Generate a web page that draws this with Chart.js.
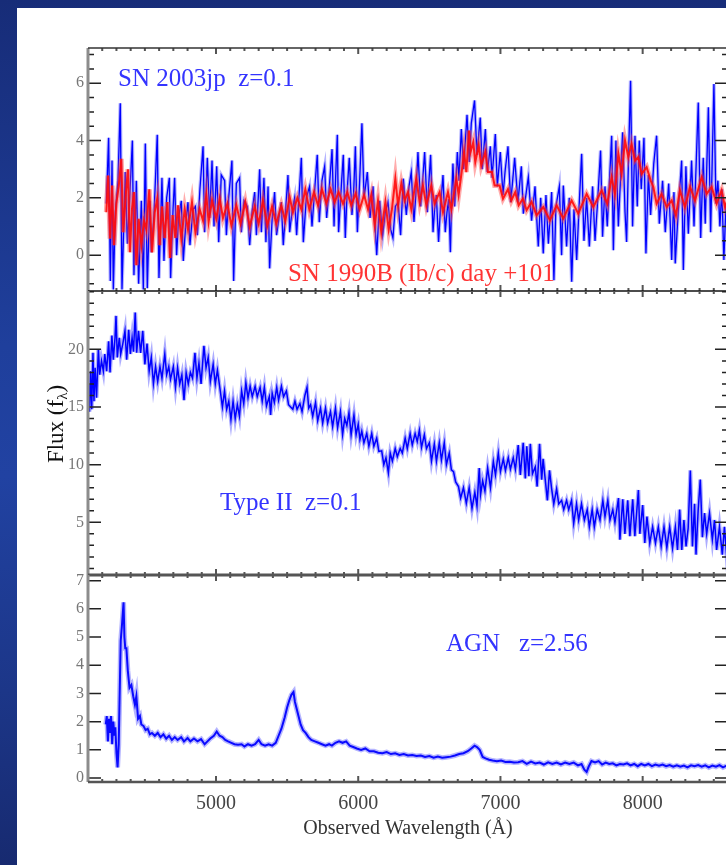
<!DOCTYPE html>
<html>
<head>
<meta charset="utf-8">
<script src="https://cdn.jsdelivr.net/npm/chart.js@4.4.1/dist/chart.umd.min.js"></script>
<style>
html, body { margin: 0; padding: 0; width: 726px; height: 865px; overflow: hidden; }
body { position: relative; background: linear-gradient(to bottom, #172c78 0%, #1f3f9c 40%, #2142a2 55%, #1c3688 80%, #172a70 100%); }
#sheet { position: absolute; left: 17px; top: 8px; width: 709px; height: 857px; background: #fff; }
#plots canvas { position: absolute; left: 0; top: 0; }
</style>
</head>
<body>
<div id="sheet"></div>
<div id="plots">
  <canvas id="p1" width="760" height="865"></canvas>
  <canvas id="p2" width="760" height="865"></canvas>
  <canvas id="p3" width="760" height="865"></canvas>
</div>
<script>
//Tick labels
const xTicks = [5000, 6000, 7000, 8000];
const yTicks1 = [0, 2, 4, 6];
const yTicks2 = [5, 10, 15, 20];
const yTicks3 = [0, 1, 2, 3, 4, 5, 6, 7];

//SN 2003jp (blue, top panel)
const sn03Wave = [4229,4245,4257,4269,4278,4292,4311,4327,4339,4362,4377,4393,4412,4423,4440,4456,4475,4489,4503,4517,
  4534,4545,4564,4587,4599,4620,4634,4653,4672,4681,4698,4709,4723,4737,4756,4770,4789,4803,4817,4838,
  4855,4869,4887,4909,4920,4939,4955,4972,4986,5005,5019,5037,5061,5073,5089,5112,5124,5143,5166,5178,
  5197,5220,5237,5253,5272,5284,5307,5319,5337,5351,5366,5377,5394,5412,5426,5445,5459,5473,5490,5506,
  5518,5534,5553,5567,5600,5614,5635,5658,5675,5694,5712,5726,5745,5764,5778,5797,5816,5830,5841,5853,
  5862,5881,5895,5909,5923,5937,5956,5968,5980,5994,6010,6026,6041,6064,6083,6104,6130,6151,6172,6191,
  6209,6228,6244,6261,6280,6298,6317,6338,6357,6373,6392,6406,6420,6439,6453,6467,6486,6495,6509,6526,
  6537,6549,6565,6580,6596,6612,6624,6636,6648,6657,6666,6678,6697,6708,6725,6741,6765,6781,6795,6818,
  6835,6847,6858,6872,6894,6908,6929,6941,6964,6978,6999,7018,7034,7053,7072,7086,7100,7123,7147,7161,
  7196,7219,7243,7266,7283,7301,7320,7337,7360,7376,7390,7414,7430,7442,7465,7484,7501,7517,7536,7554,
  7571,7587,7606,7625,7648,7665,7681,7704,7718,7735,7751,7782,7794,7812,7829,7859,7876,7887,7901,7915,
  7929,7946,7962,7976,7990,8009,8023,8040,8056,8078,8098,8117,8140,8159,8183,8204,8220,8229,8251,8274,
  8286,8304,8321,8344,8361,8391,8408,8426,8440,8462,8478,8501,8515,8529,8543,8557,8571,8586,8600];
const sn03Flux = [1.8,4.1,-0.9,3.3,-1.2,1.5,2.6,5.3,-1.2,2.9,0.4,2.0,4.0,-0.7,2.6,-1.0,1.9,-1.2,3.9,-1.15,
  1.9,0.1,1.4,4.2,-0.8,2.7,-0.2,2.0,2.7,-0.8,1.6,2.7,0.0,1.3,1.9,-0.2,1.2,1.85,0.35,1.6,
  1.7,0.7,2.3,3.8,0.8,3.4,1.3,3.3,1.0,3.1,0.45,2.8,2.6,0.7,2.0,3.3,-0.9,2.5,2.7,0.8,
  1.9,1.7,0.35,1.5,2.2,0.7,3.0,0.8,2.7,0.45,2.4,-0.46,1.2,2.2,0.7,1.4,1.85,0.35,1.6,2.8,
  0.8,1.5,2.0,0.7,3.4,0.45,2.0,2.4,1.0,2.3,3.5,1.15,2.6,3.1,1.3,2.4,3.7,1.0,2.7,4.2,
  0.8,2.4,3.5,0.6,2.3,3.4,1.4,2.2,3.8,0.8,2.6,4.6,2.0,2.9,1.3,2.4,0.0,1.9,0.7,1.5,
  1.85,0.9,0.6,1.7,1.85,0.7,2.67,1.4,2.4,2.9,1.16,2.2,3.6,1.7,2.6,3.6,1.5,2.4,3.5,0.8,
  1.6,2.1,0.46,1.8,2.8,0.8,1.5,1.95,0.1,2.0,3.2,1.7,3.6,2.6,4.4,3.0,4.9,3.25,4.6,5.4,
  3.5,4.2,4.8,3.0,4.4,2.9,3.8,2.7,4.23,2.4,3.6,2.1,3.0,3.8,1.85,2.6,3.4,1.85,3.1,1.45,
  2.72,1.2,2.4,0.3,2.0,0.06,2.1,0.4,2.2,-0.87,1.7,2.4,0.0,2.43,0.3,2.0,-0.93,1.6,-0.17,1.8,
  3.54,0.5,2.0,0.3,2.4,0.5,1.7,3.65,0.64,2.4,1.0,4.17,0.17,4.0,1.0,4.29,1.5,0.46,3.5,6.09,
  1.0,4.17,1.7,4.0,2.3,4.1,0.06,2.8,1.4,3.2,4.17,1.1,2.6,0.8,2.5,-0.17,2.2,-0.29,1.6,3.3,
  -0.52,3.1,0.75,3.3,1.0,5.33,0.6,3.4,1.1,5.16,0.8,5.97,1.8,2.6,1.0,2.3,-0.17,1.8,1.2];

//SN 1990B (red, top panel)
const sn90Wave = [4229,4241,4255,4269,4283,4299,4316,4334,4348,4367,4381,4395,4409,4423,4440,4456,4475,4494,4510,4531,
  4550,4569,4587,4604,4620,4639,4658,4677,4695,4714,4733,4756,4780,4803,4831,4855,4885,4909,4932,4948,
  4972,5002,5026,5049,5080,5108,5143,5173,5206,5237,5272,5300,5330,5361,5394,5424,5459,5487,5518,5541,
  5572,5600,5628,5656,5689,5717,5745,5776,5806,5834,5862,5893,5923,5951,5982,6010,6041,6069,6092,6116,
  6139,6162,6191,6214,6237,6261,6280,6303,6326,6350,6373,6408,6432,6455,6479,6514,6537,6572,6596,6631,
  6655,6690,6706,6730,6744,6760,6779,6790,6809,6823,6847,6865,6894,6912,6940,6959,6994,7018,7053,7076,
  7104,7128,7158,7184,7219,7254,7301,7348,7395,7442,7501,7547,7606,7653,7712,7751,7782,7805,7829,7852,
  7876,7899,7922,7946,7969,7993,8028,8056,8075,8098,8133,8169,8204,8234,8262,8297,8333,8368,8415,8450,
  8485,8520,8555,8579,8600];
const sn90Flux = [1.5,2.78,0.58,2.43,0.35,1.8,2.4,3.36,0.8,2.2,3.0,0.1,1.6,2.2,-0.35,1.27,0.35,1.2,0.9,2.3,
  0.1,1.5,1.97,0.35,1.7,0.6,1.85,-0.1,1.4,0.6,1.74,0.58,1.6,0.9,1.85,0.8,1.6,1.2,2.1,1.16,
  1.9,1.27,1.97,1.3,1.8,1.04,1.74,1.1,1.85,1.0,1.7,1.1,1.9,1.04,1.7,1.1,1.74,1.2,2.03,1.5,
  2.0,1.6,2.3,1.6,2.2,1.74,2.3,1.8,2.3,1.85,2.2,1.8,2.2,1.74,2.15,1.6,2.1,1.6,2.1,1.04,
  1.9,0.8,1.85,0.9,1.6,2.67,1.74,2.5,1.9,2.2,1.6,2.67,1.85,2.43,1.74,2.43,1.8,2.2,1.5,2.2,
  1.6,2.67,2.1,3.0,3.6,2.9,4.35,3.6,3.94,3.25,3.83,3.13,3.6,2.9,2.9,2.43,2.43,1.97,2.3,1.9,
  2.2,1.74,1.97,1.57,1.86,1.39,1.68,1.22,1.74,1.28,1.91,1.45,2.14,1.68,2.26,1.8,2.72,2.14,3.54,2.84,
  4.0,3.42,3.88,3.3,3.42,2.84,3.07,2.61,2.38,1.8,2.14,1.68,1.91,1.39,2.26,1.68,2.38,1.91,2.72,2.14,
  2.38,1.8,2.26,1.68,2.0];

//Type II (middle panel)
const typeIIWave = [4105,4110,4118,4126,4135,4142,4150,4160,4173,4182,4195,4208,4218,4231,4245,4255,4268,4278,4290,4297,
  4306,4320,4330,4345,4360,4372,4386,4398,4410,4420,4432,4442,4455,4470,4485,4500,4515,4530,4545,4560,
  4575,4590,4606,4620,4640,4653,4668,4680,4700,4715,4730,4745,4760,4775,4790,4805,4820,4835,4852,4866,
  4880,4895,4915,4930,4945,4960,4980,4995,5010,5030,5045,5060,5075,5090,5105,5120,5135,5150,5165,5180,
  5195,5210,5225,5240,5255,5275,5290,5310,5325,5340,5355,5375,5384,5395,5410,5427,5440,5460,5475,5495,
  5510,5525,5540,5555,5570,5590,5605,5625,5640,5652,5665,5680,5700,5715,5735,5750,5770,5785,5805,5820,
  5840,5855,5875,5890,5905,5920,5935,5950,5970,5985,6000,6012,6025,6040,6060,6075,6095,6110,6130,6145,
  6165,6180,6195,6212,6225,6240,6260,6275,6295,6310,6330,6345,6365,6380,6400,6415,6430,6445,6465,6480,
  6500,6515,6535,6550,6570,6585,6605,6620,6640,6655,6670,6685,6705,6720,6740,6760,6780,6800,6820,6835,
  6851,6860,6875,6891,6910,6930,6950,6965,6985,7000,7020,7035,7055,7070,7090,7105,7125,7140,7160,7175,
  7185,7200,7210,7225,7245,7258,7275,7290,7300,7315,7330,7345,7360,7375,7395,7410,7430,7445,7465,7480,
  7500,7515,7535,7550,7570,7590,7610,7625,7645,7660,7680,7700,7720,7735,7755,7770,7790,7805,7830,7840,
  7860,7875,7895,7910,7930,7945,7970,7980,8000,8015,8030,8050,8070,8090,8110,8130,8150,8170,8190,8210,
  8230,8245,8260,8275,8290,8305,8320,8335,8350,8365,8375,8390,8405,8420,8435,8450,8470,8490,8505,8520,
  8540,8560,8575,8590,8600];
const typeIIFlux = [17.0,14.6,18.1,14.8,19.7,15.5,18.4,15.8,20.0,17.8,19.0,18.1,19.6,18.1,20.7,18.0,21.2,19.1,21.0,22.9,
  19.3,21.0,19.6,20.5,21.6,19.1,21.7,19.6,21.0,19.8,23.2,19.7,21.6,19.7,21.6,18.7,20.5,18.1,19.3,17.0,
  18.5,17.2,18.5,17.5,19.6,17.8,18.5,17.4,18.5,16.7,18.4,17.0,17.8,15.6,18.0,17.0,18.0,17.5,19.7,17.5,
  18.8,17.0,20.3,18.4,19.3,17.2,18.7,17.0,18.2,16.4,15.0,16.4,14.8,15.5,13.9,15.5,14.0,15.2,14.2,16.4,
  15.3,17.1,15.8,16.8,15.9,16.8,15.9,16.7,15.5,16.7,15.1,15.9,14.3,16.2,15.4,16.7,15.6,16.8,15.9,16.4,
  15.2,15.0,14.8,15.5,14.8,15.3,14.6,16.0,16.7,14.9,15.2,14.2,15.4,13.8,14.9,13.6,14.9,13.6,14.6,13.3,
  14.9,13.2,14.6,12.6,14.0,13.4,14.5,12.6,14.3,12.6,13.5,12.2,12.9,11.9,12.7,11.6,12.7,11.6,12.3,11.15,
  11.2,10.0,10.6,9.3,11.0,10.3,11.4,10.7,11.4,11.0,12.3,11.4,12.7,11.7,12.7,12.0,13.0,11.5,12.6,11.4,
  11.9,10.3,11.8,10.3,11.9,10.4,11.9,10.0,11.0,9.55,9.4,8.5,8.1,7.1,8.0,6.65,8.0,6.2,7.6,6.4,
  9.7,7.4,8.6,7.7,9.7,8.0,10.3,9.1,11.0,9.4,10.5,9.5,10.6,9.6,10.6,9.6,11.7,9.1,11.9,8.8,
  11.6,9.0,11.8,9.2,9.8,8.1,11.8,8.7,10.5,8.7,6.9,9.5,7.9,6.6,7.9,6.6,6.9,6.1,6.9,6.1,
  6.9,4.9,6.6,5.2,6.6,5.2,6.1,4.6,6.1,4.6,6.1,5.2,6.9,5.5,6.9,5.2,6.1,5.0,7.1,3.5,
  7.0,4.0,6.9,3.8,7.0,3.8,7.8,4.0,6.5,3.2,5.5,3.2,4.6,3.2,4.6,2.9,4.6,2.8,4.6,2.75,
  4.6,2.6,6.1,2.6,5.2,2.9,4.5,9.5,2.9,6.6,2.2,6.0,8.7,3.7,5.8,4.0,5.8,3.5,5.2,2.6,
  4.6,2.2,4.6,2.2,3.0];

//AGN (bottom panel)
const agnWave = [4225,4232,4240,4248,4255,4262,4270,4278,4285,4292,4300,4308,4316,4322,4330,4340,4350,4356,4362,4370,
  4380,4392,4405,4418,4430,4440,4452,4465,4475,4490,4505,4520,4535,4550,4570,4590,4610,4630,4650,4670,
  4690,4710,4730,4755,4775,4800,4820,4845,4870,4895,4920,4940,4960,4985,5005,5025,5045,5065,5085,5108,
  5130,5155,5180,5200,5225,5250,5275,5300,5320,5345,5370,5395,5420,5440,5460,5483,5500,5515,5530,5545,
  5555,5565,5580,5595,5612,5630,5650,5670,5695,5720,5745,5770,5795,5815,5840,5865,5890,5915,5940,5965,
  5990,6020,6050,6080,6110,6140,6170,6200,6230,6260,6290,6320,6350,6380,6410,6440,6470,6500,6530,6560,
  6590,6620,6650,6680,6710,6740,6770,6795,6818,6835,6854,6875,6895,6920,6945,6975,7005,7035,7065,7095,
  7125,7155,7185,7215,7245,7275,7305,7335,7365,7395,7425,7455,7485,7515,7545,7570,7590,7606,7620,7640,
  7665,7690,7715,7740,7765,7790,7815,7840,7865,7890,7915,7940,7965,7990,8015,8040,8065,8090,8115,8140,
  8165,8190,8215,8240,8265,8290,8315,8340,8365,8390,8415,8440,8465,8490,8515,8540,8565,8590];
const agnFlux = [1.9,2.2,1.3,2.1,1.6,2.2,1.2,2.0,1.5,1.8,0.9,0.38,1.2,2.8,4.87,5.5,6.23,5.0,4.6,4.6,
  3.8,3.2,3.3,2.9,2.6,2.9,2.1,2.2,1.9,1.85,1.7,1.75,1.55,1.6,1.5,1.6,1.45,1.55,1.4,1.5,
  1.35,1.45,1.35,1.45,1.3,1.42,1.3,1.4,1.3,1.38,1.2,1.3,1.4,1.5,1.65,1.5,1.45,1.35,1.3,1.25,
  1.2,1.18,1.2,1.12,1.2,1.15,1.2,1.35,1.2,1.15,1.2,1.15,1.25,1.5,1.75,2.15,2.5,2.75,2.95,3.05,
  2.7,2.5,2.2,1.9,1.7,1.6,1.45,1.35,1.3,1.25,1.2,1.15,1.2,1.15,1.25,1.3,1.25,1.3,1.15,1.1,
  1.05,1.0,1.05,0.95,0.95,0.9,0.88,0.92,0.85,0.88,0.82,0.85,0.8,0.82,0.78,0.8,0.75,0.78,0.72,0.76,
  0.72,0.74,0.76,0.8,0.85,0.88,0.95,1.05,1.15,1.1,1.0,0.75,0.7,0.65,0.62,0.6,0.62,0.57,0.58,0.55,
  0.56,0.6,0.5,0.58,0.52,0.55,0.48,0.56,0.5,0.55,0.48,0.55,0.5,0.55,0.45,0.5,0.3,0.22,0.4,0.6,
  0.55,0.6,0.48,0.55,0.5,0.52,0.45,0.5,0.48,0.52,0.45,0.5,0.42,0.5,0.45,0.5,0.42,0.48,0.44,0.48,
  0.42,0.46,0.4,0.45,0.4,0.44,0.38,0.45,0.42,0.46,0.4,0.45,0.38,0.44,0.4,0.46,0.38,0.44];

const toPoints = (w, f) => w.map((v, i) => ({x: v, y: f[i]}));

Chart.defaults.font.family = "'Liberation Serif', 'DejaVu Serif', serif";
Chart.defaults.animation = false;

//draws the frame, inward ticks and the panel texts
const panelFrame = {
  id: 'panelFrame',
  afterDraw(chart, args, o) {
    const ctx = chart.ctx;
    const a = chart.chartArea;
    const xs = chart.scales.x;
    const ys = chart.scales.y;
    ctx.save();

    ctx.strokeStyle = '#555';
    ctx.lineWidth = 2;
    for (let w = 4100; w <= 8600; w += 100) {
      const px = xs.getPixelForValue(w);
      const len = w % 1000 === 0 ? 6 : 3;
      ctx.beginPath();
      ctx.moveTo(px, a.top); ctx.lineTo(px, a.top + len);
      ctx.moveTo(px, a.bottom); ctx.lineTo(px, a.bottom - len);
      ctx.stroke();
    }

    ctx.strokeStyle = '#222';
    ctx.lineWidth = 1.5;
    const first = Math.ceil(ys.min / o.minorStep) * o.minorStep;
    for (let v = first; v <= ys.max; v += o.minorStep) {
      const py = ys.getPixelForValue(v);
      const len = o.major.some(m => Math.abs(m - v) < 1e-6) ? 13 : 6;
      ctx.beginPath();
      ctx.moveTo(a.left, py); ctx.lineTo(a.left + len, py);
      ctx.moveTo(a.right, py); ctx.lineTo(a.right - len, py);
      ctx.stroke();
    }

    // left axis, grey ruler look
    ctx.strokeStyle = '#8c8c8c';
    ctx.lineWidth = 3;
    ctx.beginPath(); ctx.moveTo(a.left, a.top); ctx.lineTo(a.left, a.bottom); ctx.stroke();
    ctx.strokeStyle = '#333';
    ctx.lineWidth = 1.5;
    ctx.beginPath(); ctx.moveTo(a.right, a.top); ctx.lineTo(a.right, a.bottom); ctx.stroke();

    if (o.topLine) {
      ctx.strokeStyle = o.topLine.color; ctx.lineWidth = o.topLine.width;
      ctx.beginPath(); ctx.moveTo(a.left, a.top); ctx.lineTo(a.right, a.top); ctx.stroke();
    }
    if (o.bottomLine) {
      ctx.strokeStyle = o.bottomLine.color; ctx.lineWidth = o.bottomLine.width;
      ctx.beginPath(); ctx.moveTo(a.left, a.bottom); ctx.lineTo(a.right, a.bottom); ctx.stroke();
    }

    ctx.font = "25px 'Liberation Serif'";
    ctx.textAlign = 'left';
    ctx.textBaseline = 'alphabetic';
    o.labels.forEach(l => {
      ctx.fillStyle = l.color;
      ctx.fillText(l.text, xs.getPixelForValue(l.wave), ys.getPixelForValue(l.flux));
    });

    if (o.yTitle) {
      ctx.translate(55, a.top + 133);
      ctx.rotate(-Math.PI / 2);
      ctx.fillStyle = '#111';
      const big = "23px 'Liberation Serif'";
      const small = "15px 'Liberation Serif'";
      ctx.font = big;
      const w1 = ctx.measureText('Flux (f').width;
      const w3 = ctx.measureText(')').width;
      ctx.font = small;
      const w2 = ctx.measureText('λ').width;
      let x0 = -(w1 + w2 + w3) / 2;
      ctx.font = big;
      ctx.fillText('Flux (f', x0, 8);
      ctx.font = small;
      ctx.fillText('λ', x0 + w1, 12);
      ctx.font = big;
      ctx.fillText(')', x0 + w1 + w2, 8);
    }
    ctx.restore();
  }
};

const yAxis = (min, max, ticks) => ({
  min: min, max: max,
  afterBuildTicks: s => { s.ticks = ticks.map(v => ({value: v})); },
  afterFit: s => { s.width = 88; s.paddingTop = 0; s.paddingBottom = 0; },
  grid: {display: false, drawTicks: false},
  border: {display: false},
  ticks: {padding: 4, color: '#777', font: {size: 16}, callback: v => String(v)}
});

const hiddenX = {type: 'linear', min: 4100, max: 8600, display: false};

const line = (data, color, width) => ({
  data: data, borderColor: color, borderWidth: width, pointRadius: 0, tension: 0, fill: false
});

new Chart(document.querySelector('#p1'), {
  type: 'line',
  data: {
    datasets: [
      line(toPoints(sn90Wave, sn90Flux), 'rgba(255,10,10,0.9)', 2),
      line(toPoints(sn90Wave, sn90Flux), 'rgba(255,70,70,0.45)', 5),
      line(toPoints(sn03Wave, sn03Flux), '#0000ff', 1.3),
      line(toPoints(sn03Wave, sn03Flux), 'rgba(70,70,255,0.4)', 3.5)
    ]
  },
  options: {
    responsive: false,
    layout: {padding: {top: 48, bottom: 574, left: 0, right: 32}},
    scales: {x: hiddenX, y: yAxis(-1.25, 7.23, yTicks1)},
    plugins: {
      legend: {display: false}, tooltip: {enabled: false},
      panelFrame: {
        major: yTicks1, minorStep: 0.5,
        topLine: {color: '#333', width: 1.5}, bottomLine: {color: '#111', width: 1.5},
        labels: [
          {text: 'SN 2003jp  z=0.1', wave: 4311, flux: 5.91, color: '#3434ff'},
          {text: 'SN 1990B (Ib/c) day +101', wave: 5506, flux: -0.89, color: '#ff3434'}
        ]
      }
    }
  },
  plugins: [panelFrame]
});

new Chart(document.querySelector('#p2'), {
  type: 'line',
  data: {
    datasets: [
      line(toPoints(typeIIWave, typeIIFlux), '#0000ff', 1.5),
      line(toPoints(typeIIWave, typeIIFlux), 'rgba(70,70,255,0.45)', 4)
    ]
  },
  options: {
    responsive: false,
    layout: {padding: {top: 291, bottom: 290, left: 0, right: 32}},
    scales: {x: hiddenX, y: yAxis(0.43, 25.06, yTicks2)},
    plugins: {
      legend: {display: false}, tooltip: {enabled: false},
      panelFrame: {
        major: yTicks2, minorStep: 1,
        topLine: null, bottomLine: {color: '#555', width: 3},
        yTitle: true,
        labels: [
          {text: 'Type II  z=0.1', wave: 5028, flux: 6.06, color: '#3434ff'}
        ]
      }
    }
  },
  plugins: [panelFrame]
});

new Chart(document.querySelector('#p3'), {
  type: 'line',
  data: {
    datasets: [
      line(toPoints(agnWave, agnFlux), '#0a0aff', 2),
      line(toPoints(agnWave, agnFlux), 'rgba(70,70,255,0.4)', 5)
    ]
  },
  options: {
    responsive: false,
    layout: {padding: {top: 575, bottom: 0, left: 0, right: 32}},
    scales: {
      x: {
        type: 'linear', min: 4100, max: 8600,
        afterBuildTicks: s => { s.ticks = xTicks.map(v => ({value: v})); },
        afterFit: s => { s.height = 83; s.paddingLeft = 0; s.paddingRight = 0; },
        grid: {display: false, drawTicks: false},
        border: {display: false},
        ticks: {padding: 10, color: '#444', font: {size: 20}, maxRotation: 0, autoSkip: false, callback: v => String(v)},
        title: {display: true, text: 'Observed Wavelength (Å)', color: '#333', font: {size: 20}, padding: {top: 0, bottom: 24}}
      },
      y: yAxis(-0.14, 7.2, yTicks3)
    },
    plugins: {
      legend: {display: false}, tooltip: {enabled: false},
      panelFrame: {
        major: yTicks3, minorStep: 1,
        topLine: null, bottomLine: {color: '#555', width: 2.5},
        labels: [
          {text: 'AGN   z=2.56', wave: 6617, flux: 4.5, color: '#3434ff'}
        ]
      }
    }
  },
  plugins: [panelFrame]
});
</script>
</body>
</html>
